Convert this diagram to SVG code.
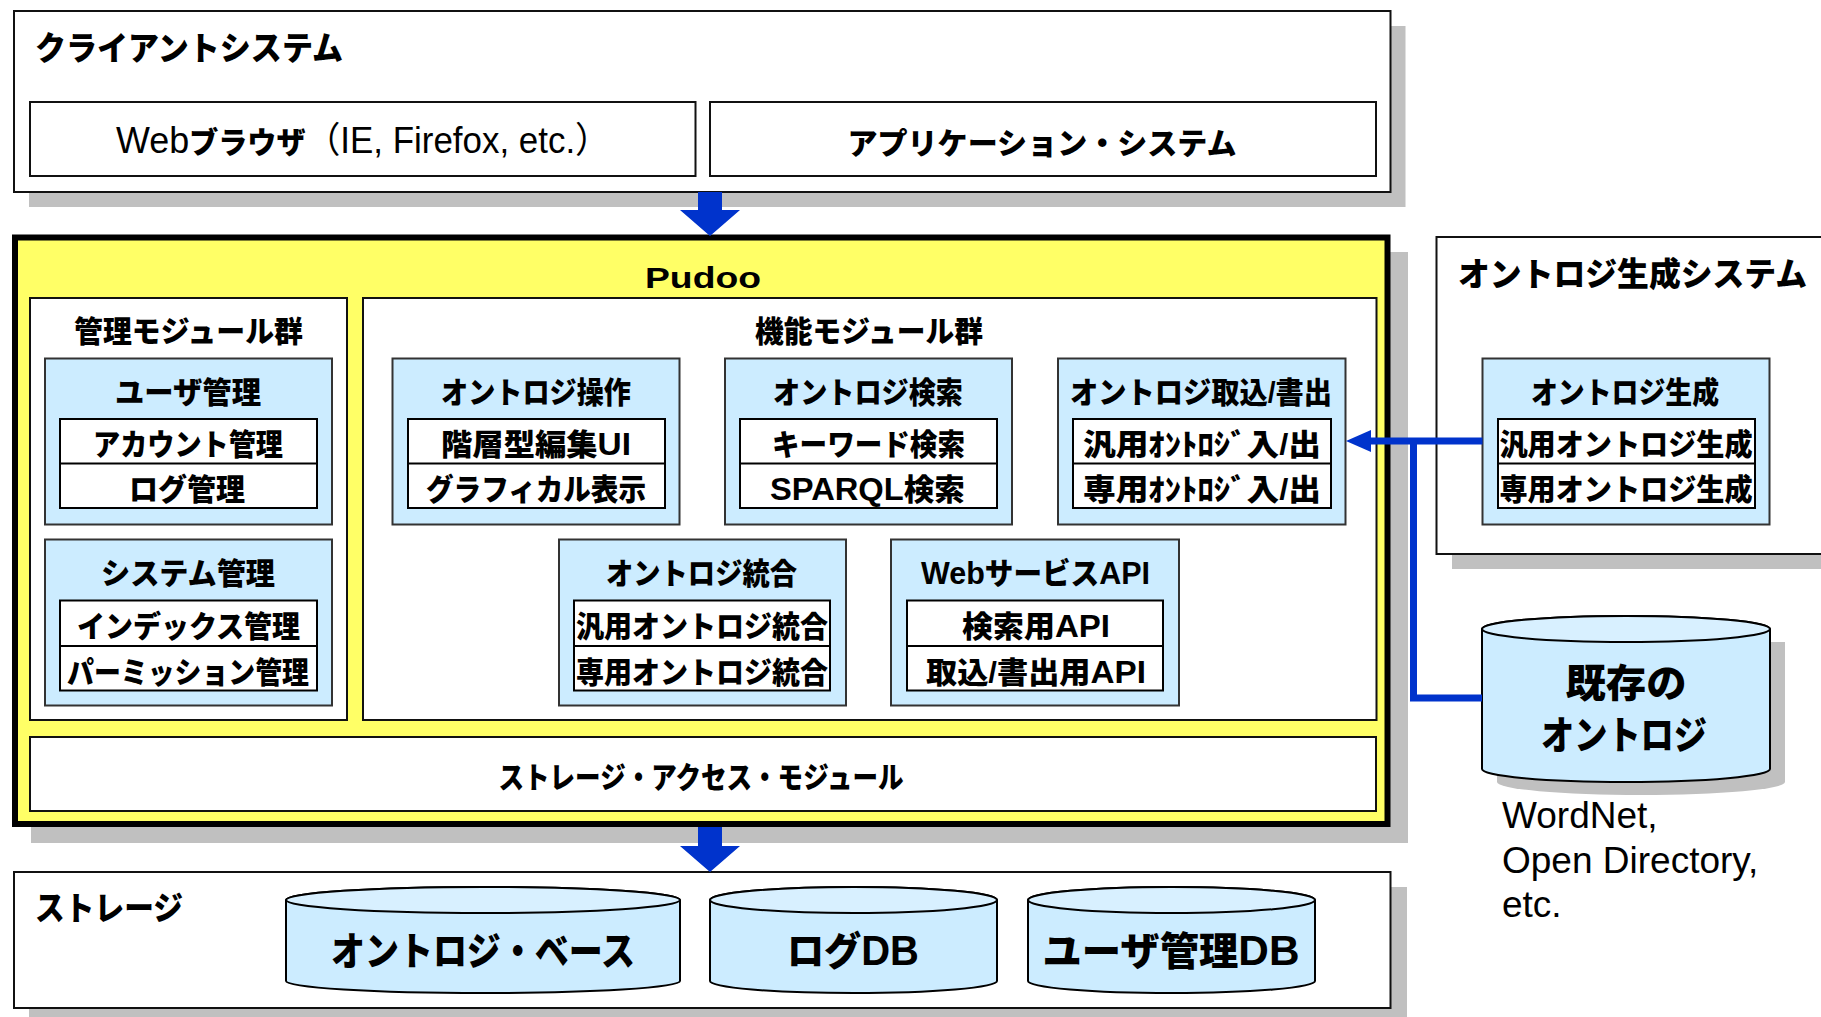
<svg xmlns="http://www.w3.org/2000/svg" width="1821" height="1017" viewBox="0 0 1821 1017">
<style>
.bg{fill:#fff}
.shadow{fill:#C0C0C0}
.box{fill:#fff;stroke:#111;stroke-width:2}
.mod{fill:#CCECFF;stroke:#333;stroke-width:2}
.inner{fill:#fff;stroke:#000;stroke-width:2}
.cyl{fill:#CCECFF;stroke:#000;stroke-width:2}
.cyltop{fill:#D8F0FF;stroke:#000;stroke-width:2}
.t{font-family:"Liberation Sans","Noto Sans CJK JP",sans-serif;font-weight:900;font-size:30px;text-anchor:middle;fill:#000}
.h{font-size:33px;text-anchor:start}
.big{font-size:39px}
.n{font-weight:normal}
.L{font-size:32px}
.LB{font-size:42px}
.lbl{font-family:"Liberation Sans","Noto Sans CJK JP",sans-serif;font-size:37px;fill:#000}
.blue{fill:#0033CC}
.bline{fill:none;stroke:#0033CC;stroke-width:7}
</style>
<rect class="bg" x="0" y="0" width="1821" height="1017"/>

<g id="client-system">
<rect class="shadow" x="29" y="26" width="1376.5" height="181"/>
<rect class="box" x="14" y="11" width="1376.5" height="181"/>
<text class="t h" x="35" y="60" textLength="308" lengthAdjust="spacingAndGlyphs">クライアントシステム</text>
<g id="web-browser">
<rect class="box" x="30" y="102" width="665.5" height="74"/>
<text class="t" x="363" y="153" font-size="33" textLength="494" lengthAdjust="spacingAndGlyphs"><tspan class="n" font-size="37">Web</tspan><tspan>ブラウザ</tspan><tspan class="n" font-size="36">（IE, Firefox, etc.）</tspan></text>
</g>
<g id="app-system">
<rect class="box" x="710" y="102" width="666" height="74"/>
<text class="t" x="1042" y="154" font-size="33" textLength="389" lengthAdjust="spacingAndGlyphs">アプリケーション・システム</text>
</g>
</g>

<g id="pudoo">
<rect class="shadow" x="31" y="252" width="1377" height="591"/>
<rect x="15" y="237.5" width="1372.5" height="586.5" fill="#FFFF66" stroke="#000" stroke-width="6"/>
<text class="t" x="703" y="288" font-size="42" textLength="116" lengthAdjust="spacingAndGlyphs">Pudoo</text>

<g id="mgmt-modules">
<rect class="box" x="30" y="298" width="317" height="422"/>
<text class="t" x="188.5" y="341.5" textLength="229" lengthAdjust="spacingAndGlyphs">管理モジュール群</text>
<g id="user-mgmt">
<rect class="mod" x="45" y="358.5" width="287" height="166"/>
<text class="t" x="188" y="402.5" textLength="146" lengthAdjust="spacingAndGlyphs">ユーザ管理</text>
<rect class="inner" x="60" y="419" width="257" height="89"/>
<line x1="60" y1="463.5" x2="317" y2="463.5" stroke="#000" stroke-width="2"/>
<text class="t" x="188" y="455" textLength="190" lengthAdjust="spacingAndGlyphs">アカウント管理</text>
<text class="t" x="187" y="500" textLength="116" lengthAdjust="spacingAndGlyphs">ログ管理</text>
</g>
<g id="system-mgmt">
<rect class="mod" x="45" y="539.5" width="287" height="166"/>
<text class="t" x="188" y="583.5" textLength="174" lengthAdjust="spacingAndGlyphs">システム管理</text>
<rect class="inner" x="60" y="600.5" width="257" height="90"/>
<line x1="60" y1="646" x2="317" y2="646" stroke="#000" stroke-width="2"/>
<text class="t" x="188.5" y="637" textLength="223" lengthAdjust="spacingAndGlyphs">インデックス管理</text>
<text class="t" x="188" y="682.5" textLength="242" lengthAdjust="spacingAndGlyphs">パーミッション管理</text>
</g>
</g>

<g id="func-modules">
<rect class="box" x="363" y="298" width="1013.5" height="422"/>
<text class="t" x="869" y="341.5" textLength="228" lengthAdjust="spacingAndGlyphs">機能モジュール群</text>
<g id="ont-operation">
<rect class="mod" x="392.5" y="358.5" width="287" height="166"/>
<text class="t" x="536" y="402.5" textLength="190" lengthAdjust="spacingAndGlyphs">オントロジ操作</text>
<rect class="inner" x="408" y="419" width="257" height="89"/>
<line x1="408" y1="463.5" x2="665" y2="463.5" stroke="#000" stroke-width="2"/>
<text class="t" x="536" y="455" textLength="190" lengthAdjust="spacingAndGlyphs">階層型編集<tspan class="L">UI</tspan></text>
<text class="t" x="536" y="500" textLength="220" lengthAdjust="spacingAndGlyphs">グラフィカル表示</text>
</g>
<g id="ont-search">
<rect class="mod" x="725" y="358.5" width="287" height="166"/>
<text class="t" x="868" y="402.5" textLength="190" lengthAdjust="spacingAndGlyphs">オントロジ検索</text>
<rect class="inner" x="740" y="419" width="257" height="89"/>
<line x1="740" y1="463.5" x2="997" y2="463.5" stroke="#000" stroke-width="2"/>
<text class="t" x="868.5" y="455" textLength="193" lengthAdjust="spacingAndGlyphs">キーワード検索</text>
<text class="t" x="867.5" y="500" textLength="195" lengthAdjust="spacingAndGlyphs"><tspan class="L">SPARQL</tspan>検索</text>
</g>
<g id="ont-import-export">
<rect class="mod" x="1058" y="358.5" width="287.5" height="166"/>
<text class="t" x="1201" y="402.5" textLength="262" lengthAdjust="spacingAndGlyphs">オントロジ取込/書出</text>
<rect class="inner" x="1073" y="419" width="258" height="89"/>
<line x1="1073" y1="463.5" x2="1331" y2="463.5" stroke="#000" stroke-width="2"/>
<text class="t" x="1202" y="455" textLength="238" lengthAdjust="spacingAndGlyphs">汎用ｵﾝﾄﾛｼﾞ入/出</text>
<text class="t" x="1202" y="500" textLength="238" lengthAdjust="spacingAndGlyphs">専用ｵﾝﾄﾛｼﾞ入/出</text>
</g>
<g id="ont-integration">
<rect class="mod" x="559" y="539.5" width="287" height="166"/>
<text class="t" x="701.5" y="583.5" textLength="191" lengthAdjust="spacingAndGlyphs">オントロジ統合</text>
<rect class="inner" x="574" y="600.5" width="256" height="90"/>
<line x1="574" y1="646" x2="830" y2="646" stroke="#000" stroke-width="2"/>
<text class="t" x="702" y="637" textLength="252" lengthAdjust="spacingAndGlyphs">汎用オントロジ統合</text>
<text class="t" x="702" y="682.5" textLength="252" lengthAdjust="spacingAndGlyphs">専用オントロジ統合</text>
</g>
<g id="web-service-api">
<rect class="mod" x="891" y="539.5" width="288" height="166"/>
<text class="t" x="1035.5" y="583.5" textLength="229" lengthAdjust="spacingAndGlyphs"><tspan class="L">Web</tspan>サービス<tspan class="L">API</tspan></text>
<rect class="inner" x="907" y="600.5" width="256" height="90"/>
<line x1="907" y1="646" x2="1163" y2="646" stroke="#000" stroke-width="2"/>
<text class="t" x="1036" y="637" textLength="148" lengthAdjust="spacingAndGlyphs">検索用<tspan class="L">API</tspan></text>
<text class="t" x="1036" y="682.5" textLength="220" lengthAdjust="spacingAndGlyphs">取込/書出用<tspan class="L">API</tspan></text>
</g>
</g>

<g id="storage-access">
<rect class="box" x="30" y="737" width="1346" height="74"/>
<text class="t" x="701" y="787.5" textLength="405" lengthAdjust="spacingAndGlyphs">ストレージ・アクセス・モジュール</text>
</g>
</g>

<g id="ont-gen-system">
<rect class="shadow" x="1452" y="252" width="400" height="317"/>
<rect class="box" x="1436.5" y="237" width="420" height="317"/>
<text class="t h" x="1458" y="286" textLength="349" lengthAdjust="spacingAndGlyphs">オントロジ生成システム</text>
<g id="ont-gen">
<rect class="mod" x="1482.5" y="358.5" width="287" height="166"/>
<text class="t" x="1625" y="402.5" textLength="188" lengthAdjust="spacingAndGlyphs">オントロジ生成</text>
<rect class="inner" x="1498" y="419" width="257" height="89"/>
<line x1="1498" y1="463.5" x2="1755" y2="463.5" stroke="#000" stroke-width="2"/>
<text class="t" x="1626" y="455" textLength="253" lengthAdjust="spacingAndGlyphs">汎用オントロジ生成</text>
<text class="t" x="1626" y="500" textLength="253" lengthAdjust="spacingAndGlyphs">専用オントロジ生成</text>
</g>
</g>

<g id="existing-ontology">
<path class="shadow" d="M1497 642 L1497 782 A144 13 0 0 0 1785 782 L1785 642 Z"/>
<path class="cyl" d="M1482 629 L1482 769 A144 13 0 0 0 1770 769 L1770 629 A144 13 0 0 0 1482 629 Z"/>
<ellipse class="cyltop" cx="1626" cy="629" rx="144" ry="13"/>
<text class="t big" x="1626" y="697" textLength="121" lengthAdjust="spacingAndGlyphs">既存の</text>
<text class="t big" x="1624" y="748.5" textLength="166" lengthAdjust="spacingAndGlyphs">オントロジ</text>
<text class="lbl" x="1502" y="828">WordNet,</text>
<text class="lbl" x="1502" y="873">Open Directory,</text>
<text class="lbl" x="1502" y="917">etc.</text>
</g>

<g id="storage">
<rect class="shadow" x="29" y="887" width="1378" height="140"/>
<rect class="box" x="14" y="872" width="1376.5" height="136"/>
<text class="t h" x="35" y="920" textLength="148" lengthAdjust="spacingAndGlyphs">ストレージ</text>
<g id="ontology-base">
<path class="cyl" d="M286 900 L286 981 A197 12 0 0 0 680 981 L680 900 A197 13 0 0 0 286 900 Z"/>
<ellipse class="cyltop" cx="483" cy="900" rx="197" ry="13"/>
<text class="t big" x="483" y="965" textLength="304" lengthAdjust="spacingAndGlyphs">オントロジ・ベース</text>
</g>
<g id="log-db">
<path class="cyl" d="M710 900 L710 981 A143.5 12 0 0 0 997 981 L997 900 A143.5 13 0 0 0 710 900 Z"/>
<ellipse class="cyltop" cx="853.5" cy="900" rx="143.5" ry="13"/>
<text class="t big" x="853" y="965" textLength="132" lengthAdjust="spacingAndGlyphs">ログ<tspan class="LB">DB</tspan></text>
</g>
<g id="user-mgmt-db">
<path class="cyl" d="M1028 900 L1028 981 A143.5 12 0 0 0 1315 981 L1315 900 A143.5 13 0 0 0 1028 900 Z"/>
<ellipse class="cyltop" cx="1171.5" cy="900" rx="143.5" ry="13"/>
<text class="t big" x="1171" y="965" textLength="257" lengthAdjust="spacingAndGlyphs">ユーザ管理<tspan class="LB">DB</tspan></text>
</g>
</g>

<g id="connectors">
<polygon class="blue" points="698,192 722,192 722,210 740,210 710,236 680,210 698,210"/>
<polygon class="blue" points="698,827 722,827 722,846 740,846 710,872 680,846 698,846"/>
<path class="bline" d="M1482.5 441 H1368"/>
<polygon class="blue" points="1346,441 1371,430 1371,452"/>
<path class="bline" d="M1413.5 441 V698 H1482"/>
</g>
</svg>
